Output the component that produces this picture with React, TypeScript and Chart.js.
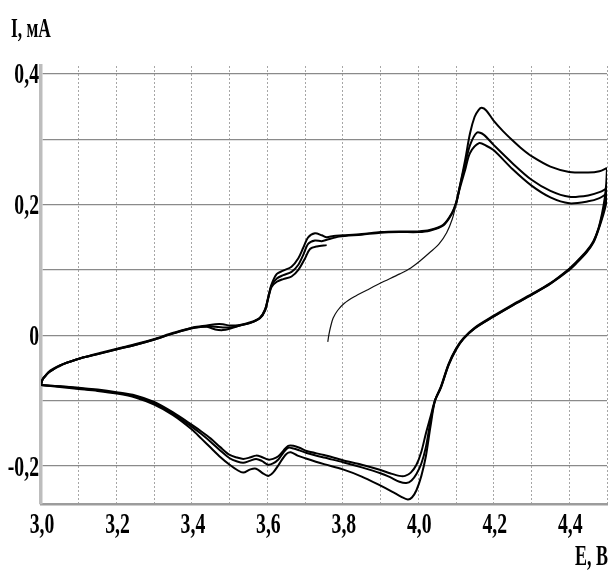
import { useEffect, useRef } from 'react';
import Chart from 'chart.js/auto';

type Pt = [number, number];

// E, В / I, мА
const startSweep: Pt[] = [
  [3.760, -0.010], [3.763, 0.001], [3.767, 0.012], [3.774, 0.026], [3.786, 0.038],
  [3.804, 0.049], [3.830, 0.059], [3.863, 0.069], [3.900, 0.080], [3.951, 0.094],
  [3.980, 0.103], [4.005, 0.114], [4.031, 0.127], [4.055, 0.140], [4.075, 0.157],
  [4.090, 0.178], [4.100, 0.200],
];

const anodic1: Pt[] = [
  [4.100, 0.200], [4.110, 0.228], [4.124, 0.268], [4.137, 0.309], [4.149, 0.334],
  [4.160, 0.345], [4.168, 0.348], [4.180, 0.344], [4.200, 0.328], [4.225, 0.312],
  [4.250, 0.298], [4.275, 0.285], [4.300, 0.274], [4.350, 0.258], [4.400, 0.250],
  [4.450, 0.249], [4.480, 0.251], [4.500, 0.256],
];

const cathodic1: Pt[] = [
  [4.500, 0.256], [4.498, 0.232], [4.494, 0.210], [4.487, 0.187], [4.477, 0.163],
  [4.464, 0.144], [4.446, 0.129], [4.420, 0.113], [4.400, 0.102], [4.350, 0.080],
  [4.300, 0.063], [4.250, 0.047], [4.200, 0.030], [4.150, 0.012], [4.120, -0.004],
  [4.100, -0.020], [4.080, -0.044], [4.060, -0.078], [4.044, -0.100], [4.032, -0.140],
  [4.020, -0.185], [4.008, -0.215], [3.995, -0.237], [3.983, -0.248], [3.972, -0.251],
  [3.955, -0.247], [3.930, -0.239], [3.900, -0.230], [3.850, -0.216], [3.800, -0.205],
  [3.750, -0.197], [3.700, -0.188], [3.680, -0.184], [3.662, -0.179], [3.651, -0.181],
  [3.640, -0.189], [3.630, -0.198], [3.615, -0.210], [3.602, -0.215], [3.588, -0.211],
  [3.570, -0.204], [3.555, -0.205], [3.536, -0.210], [3.520, -0.206], [3.500, -0.198],
  [3.475, -0.186], [3.450, -0.172], [3.425, -0.158], [3.400, -0.144], [3.350, -0.122],
  [3.300, -0.106], [3.250, -0.095], [3.200, -0.089], [3.150, -0.085], [3.100, -0.082],
  [3.050, -0.079], [3.000, -0.076],
];

const anodic2: Pt[] = [
  [3.000, -0.076], [3.004, -0.068], [3.011, -0.063], [3.020, -0.057], [3.033, -0.052],
  [3.050, -0.047], [3.068, -0.042], [3.105, -0.035], [3.156, -0.028], [3.204, -0.021],
  [3.254, -0.014], [3.303, -0.006], [3.351, 0.003], [3.404, 0.012], [3.440, 0.015],
  [3.462, 0.017], [3.482, 0.017], [3.500, 0.015], [3.527, 0.016], [3.555, 0.020],
  [3.580, 0.027], [3.594, 0.040], [3.602, 0.058], [3.611, 0.078], [3.625, 0.094],
  [3.642, 0.099], [3.664, 0.105], [3.682, 0.118], [3.695, 0.134], [3.708, 0.150],
  [3.726, 0.156], [3.744, 0.153], [3.757, 0.150], [3.775, 0.152], [3.800, 0.153],
  [3.850, 0.155], [3.900, 0.158], [3.950, 0.159], [4.000, 0.159], [4.030, 0.161],
  [4.066, 0.169], [4.089, 0.187], [4.100, 0.203], [4.110, 0.228], [4.124, 0.262],
  [4.137, 0.291], [4.155, 0.310], [4.173, 0.307], [4.200, 0.291], [4.250, 0.263],
  [4.300, 0.238], [4.350, 0.221], [4.400, 0.212], [4.450, 0.214], [4.480, 0.219],
  [4.500, 0.225],
];

const cathodic2: Pt[] = [
  [4.500, 0.225], [4.496, 0.205], [4.488, 0.185], [4.477, 0.162], [4.464, 0.143],
  [4.446, 0.128], [4.420, 0.112], [4.400, 0.101], [4.350, 0.079], [4.300, 0.062],
  [4.250, 0.046], [4.200, 0.029], [4.150, 0.011], [4.120, -0.005], [4.100, -0.021],
  [4.080, -0.045], [4.060, -0.079], [4.044, -0.100], [4.032, -0.132], [4.020, -0.171],
  [4.008, -0.196], [3.995, -0.212], [3.982, -0.222], [3.968, -0.226], [3.950, -0.224],
  [3.925, -0.217], [3.900, -0.211], [3.850, -0.202], [3.800, -0.194], [3.750, -0.187],
  [3.704, -0.180], [3.685, -0.176], [3.669, -0.173], [3.655, -0.172], [3.643, -0.179],
  [3.629, -0.190], [3.615, -0.196], [3.602, -0.198], [3.585, -0.192], [3.570, -0.189],
  [3.553, -0.192], [3.536, -0.195], [3.520, -0.193], [3.500, -0.188], [3.475, -0.176],
  [3.450, -0.163], [3.425, -0.151], [3.400, -0.140], [3.350, -0.120], [3.300, -0.104],
  [3.250, -0.093], [3.200, -0.088], [3.150, -0.084], [3.100, -0.081], [3.050, -0.078],
  [3.000, -0.076],
];

const anodic3: Pt[] = [
  [3.000, -0.076], [3.004, -0.067], [3.011, -0.062], [3.020, -0.056], [3.033, -0.051],
  [3.050, -0.046], [3.068, -0.042], [3.105, -0.035], [3.156, -0.027], [3.204, -0.020],
  [3.254, -0.013], [3.303, -0.005], [3.351, 0.004], [3.404, 0.012], [3.440, 0.013],
  [3.462, 0.009], [3.482, 0.008], [3.500, 0.010], [3.527, 0.015], [3.555, 0.019],
  [3.580, 0.026], [3.594, 0.039], [3.602, 0.057], [3.611, 0.076], [3.625, 0.087],
  [3.642, 0.092], [3.664, 0.097], [3.682, 0.108], [3.695, 0.123], [3.708, 0.140],
  [3.726, 0.145], [3.744, 0.144], [3.762, 0.147], [3.790, 0.151], [3.850, 0.154],
  [3.900, 0.157], [3.950, 0.158], [4.000, 0.158], [4.030, 0.160], [4.066, 0.168],
  [4.089, 0.186], [4.100, 0.202], [4.110, 0.225], [4.124, 0.253], [4.137, 0.279],
  [4.161, 0.294], [4.180, 0.290], [4.200, 0.283], [4.250, 0.254], [4.300, 0.229],
  [4.350, 0.211], [4.400, 0.202], [4.450, 0.205], [4.480, 0.210], [4.500, 0.217],
];

const cathodic3: Pt[] = [
  [4.500, 0.217], [4.497, 0.200], [4.490, 0.184], [4.477, 0.161], [4.464, 0.142],
  [4.446, 0.127], [4.420, 0.111], [4.400, 0.100], [4.350, 0.079], [4.300, 0.062],
  [4.250, 0.046], [4.200, 0.029], [4.150, 0.011], [4.120, -0.005], [4.100, -0.022],
  [4.080, -0.046], [4.060, -0.080], [4.044, -0.100], [4.032, -0.125], [4.020, -0.150],
  [4.008, -0.178], [3.995, -0.198], [3.980, -0.210], [3.965, -0.215], [3.950, -0.215],
  [3.925, -0.211], [3.900, -0.206], [3.850, -0.198], [3.800, -0.191], [3.750, -0.183],
  [3.704, -0.177], [3.685, -0.172], [3.669, -0.169], [3.655, -0.169], [3.643, -0.176],
  [3.629, -0.185], [3.615, -0.189], [3.602, -0.190], [3.585, -0.186], [3.570, -0.184],
  [3.553, -0.187], [3.536, -0.189], [3.520, -0.187], [3.500, -0.183], [3.475, -0.171],
  [3.450, -0.158], [3.425, -0.147], [3.400, -0.137], [3.350, -0.118], [3.300, -0.102],
  [3.250, -0.092], [3.200, -0.087], [3.150, -0.083], [3.100, -0.080], [3.050, -0.078],
  [3.000, -0.076],
];

const anodic4: Pt[] = [
  [3.000, -0.076], [3.004, -0.068], [3.011, -0.062], [3.020, -0.057], [3.033, -0.052],
  [3.050, -0.046], [3.068, -0.042], [3.105, -0.035], [3.156, -0.028], [3.204, -0.021],
  [3.254, -0.014], [3.303, -0.006], [3.351, 0.003], [3.404, 0.011], [3.440, 0.014],
  [3.462, 0.013], [3.482, 0.012], [3.500, 0.012], [3.527, 0.015], [3.555, 0.019],
  [3.580, 0.026], [3.594, 0.038], [3.602, 0.056], [3.611, 0.074], [3.625, 0.082],
  [3.642, 0.086], [3.664, 0.090], [3.682, 0.100], [3.700, 0.118], [3.713, 0.132],
  [3.731, 0.136], [3.757, 0.138],
];

const sweeps: Pt[][] = [
  anodic1, cathodic1, anodic2, cathodic2, anodic3, cathodic3, anodic4,
];

const xTickValues = [3.0, 3.2, 3.4, 3.6, 3.8, 4.0, 4.2, 4.4];
const xTickLabels = ['3,0', '3,2', '3,4', '3,6', '3,8', '4,0', '4,2', '4,4'];
const yTickValues = [0.4, 0.2, 0, -0.2];
const yTickLabels = ['0,4', '0,2', '0', '-0,2'];
const yTitle = 'I, мА';
const xTitle = 'E, В';

const FONT = '"Liberation Serif", "Times New Roman", serif';

function squeezed(ctx: CanvasRenderingContext2D, text: string, x: number, y: number, sx: number) {
  ctx.save();
  ctx.translate(x, y);
  ctx.scale(sx, 1);
  ctx.fillText(text, 0, 0);
  ctx.restore();
}

// tick labels and axis titles in the narrow bold face of the original
const axisText = {
  id: 'axisText',
  afterDraw(chart: any) {
    const { ctx, chartArea } = chart;
    const xs = chart.scales.x;
    const ys = chart.scales.y;
    ctx.save();
    ctx.fillStyle = '#000';
    ctx.textBaseline = 'alphabetic';
    ctx.font = `bold 29px ${FONT}`;
    ctx.textAlign = 'center';
    xTickValues.forEach((v, i) => {
      squeezed(ctx, xTickLabels[i], xs.getPixelForValue(v) + 1, chartArea.bottom + 29, 0.68);
    });
    ctx.textAlign = 'right';
    yTickValues.forEach((v, i) => {
      squeezed(ctx, yTickLabels[i], chartArea.left - 2, ys.getPixelForValue(v) + 9.5, 0.68);
    });
    ctx.font = `bold 28px ${FONT}`;
    ctx.textAlign = 'left';
    squeezed(ctx, yTitle, 11, 37, 0.62);
    ctx.font = `bold 30px ${FONT}`;
    ctx.textAlign = 'right';
    squeezed(ctx, xTitle, chartArea.right + 1, 565, 0.6);
    ctx.restore();
  },
};

export default function App() {
  const canvasRef = useRef<HTMLCanvasElement>(null);

  useEffect(() => {
    if (!canvasRef.current) return;
    const toXY = (pts: Pt[]) => pts.map(([x, y]) => ({ x, y }));
    const chart = new Chart(canvasRef.current, {
      type: 'scatter',
      data: {
        datasets: [
          {
            data: toXY(startSweep),
            showLine: true,
            borderColor: '#111',
            borderWidth: 1.2,
            pointRadius: 0,
            tension: 0.3,
          },
          ...sweeps.map((s) => ({
            data: toXY(s),
            showLine: true,
            borderColor: '#000',
            borderWidth: 2,
            pointRadius: 0,
            tension: 0.3,
          })),
        ],
      },
      options: {
        animation: false,
        responsive: true,
        maintainAspectRatio: false,
        layout: { padding: { left: 41, top: 66, right: 4, bottom: 71 } },
        plugins: {
          legend: { display: false },
          tooltip: { enabled: false },
        },
        scales: {
          x: {
            type: 'linear',
            min: 3.0,
            max: 4.5,
            ticks: { display: false, stepSize: 0.1, maxTicksLimit: 100, includeBounds: false },
            grid: { color: '#a6a6a6', lineWidth: 1, drawTicks: false },
            border: { color: '#9c9c9c', width: 2.5, dash: [2, 2] },
          },
          y: {
            type: 'linear',
            min: -0.258,
            max: 0.412,
            ticks: { display: false, stepSize: 0.1, maxTicksLimit: 100, includeBounds: false },
            grid: { color: '#8a8a8a', lineWidth: 1.2, drawTicks: false },
            border: { color: '#bdbdbd', width: 3.5 },
          },
        },
      },
      plugins: [axisText],
    });
    return () => {
      chart.destroy();
    };
  }, []);

  return (
    <div style={{ position: 'absolute', left: 0, top: 0, width: 611, height: 575, background: '#fff' }}>
      <canvas ref={canvasRef} />
    </div>
  );
}
